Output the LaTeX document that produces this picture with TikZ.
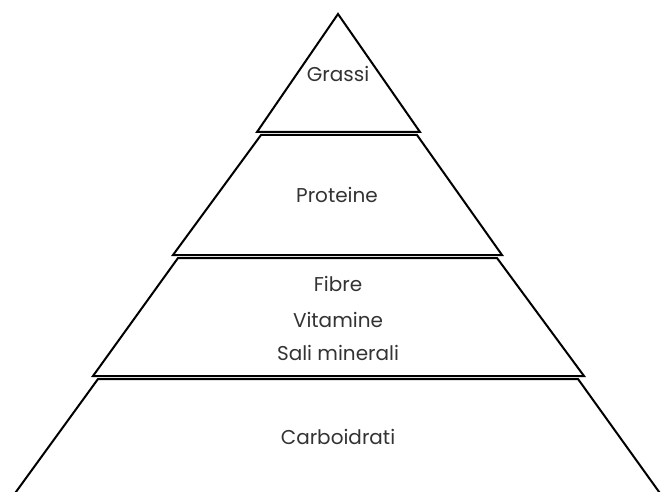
\documentclass[tikz,border=0pt]{standalone}
\usepackage{fontspec}
\setmainfont{Poppins}
\usepackage{tikz}
\tikzset{
  band/.style={draw=black,line width=2pt,line join=miter},
  band-label/.style={font=\fontsize{20}{24}\selectfont,text=black!80,inner sep=0pt},
}

\begin{document}
\begin{tikzpicture}[x=1pt,y=-1pt]
  \clip (0,0) rectangle (662,492);
  % layers of the pyramid, top to bottom
  \draw[band] (338,14) -- (420,132) -- (257,132) -- cycle;
  \draw[band] (261,135) -- (417,135) -- (502,255) -- (173,255) -- cycle;
  \draw[band] (178,258) -- (497,258) -- (584,376) -- (93,376) -- cycle;
  \draw[band] (98,379) -- (578,379) -- (662,496) -- (13,496) -- cycle;
  % labels
  \node[band-label] (grassi) at (338,74) {Grassi};
  \node[band-label] (proteine) at (337,195) {Proteine};
  \node[band-label] (fibre) at (338,284) {Fibre};
  \node[band-label] (vitamine) at (338,320) {Vitamine};
  \node[band-label] (sali) at (338,353) {Sali minerali};
  \node[band-label] (carbo) at (338,437) {Carboidrati};
\end{tikzpicture}
\end{document}
